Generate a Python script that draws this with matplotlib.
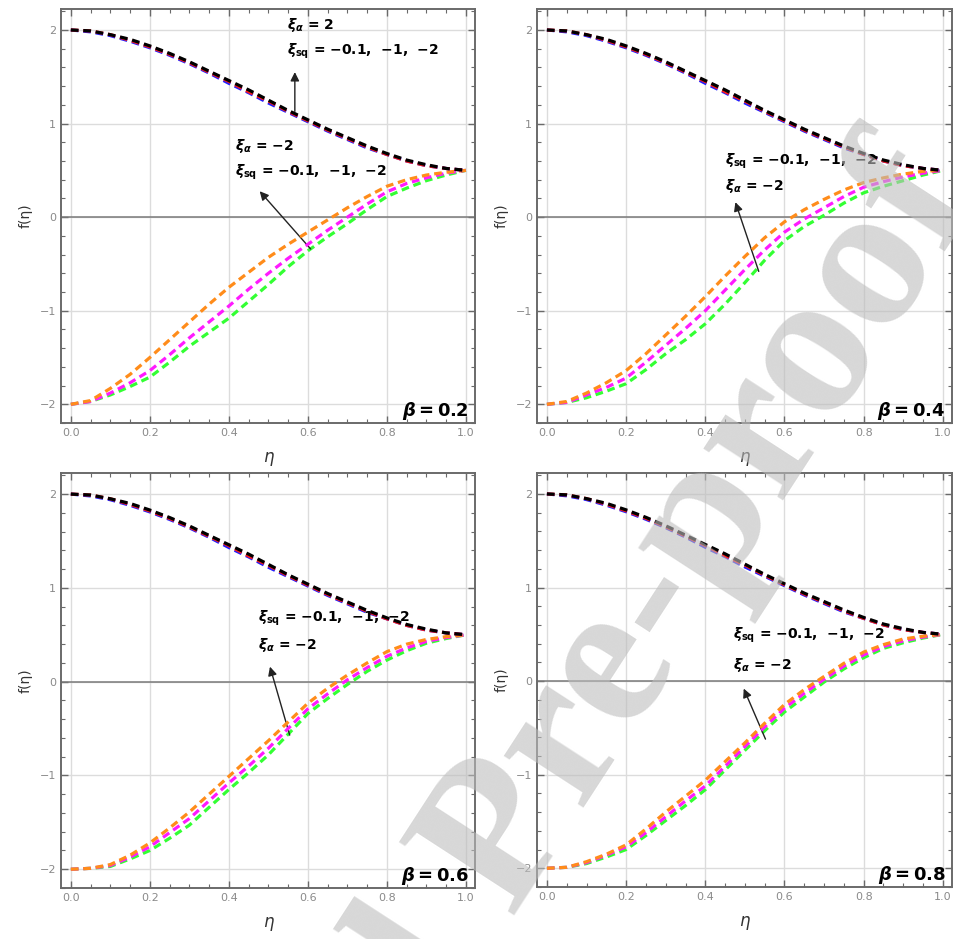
import numpy as np
import matplotlib.pyplot as plt
from matplotlib.ticker import MultipleLocator

plt.rcParams['font.family'] = ['DejaVu Sans']
plt.rcParams['mathtext.fontset'] = 'custom'
plt.rcParams['mathtext.rm'] = 'DejaVu Sans:bold'
plt.rcParams['mathtext.it'] = 'DejaVu Sans:italic:bold'
plt.rcParams['mathtext.bf'] = 'DejaVu Sans:bold'

# similarity variable
eta = [0.00, 0.05, 0.10, 0.15, 0.20, 0.25, 0.30, 0.35, 0.40, 0.45, 0.50,
       0.55, 0.60, 0.65, 0.70, 0.75, 0.80, 0.85, 0.90, 0.95, 1.00]

betas = [0.2, 0.4, 0.6, 0.8]
xi_sq = [-0.1, -1, -2]

# xi_alpha = 2 branch (nearly the same for every beta)
f_pos_01 = [2.00, 1.98, 1.94, 1.88, 1.81, 1.73, 1.64, 1.54, 1.43, 1.33, 1.22,
            1.12, 1.02, 0.92, 0.83, 0.74, 0.67, 0.60, 0.55, 0.52, 0.50]
f_pos_1 = [2.00, 1.99, 1.95, 1.89, 1.82, 1.74, 1.65, 1.55, 1.45, 1.34, 1.24,
           1.13, 1.03, 0.93, 0.84, 0.75, 0.67, 0.60, 0.55, 0.52, 0.50]
f_pos_2 = [2.00, 1.99, 1.95, 1.90, 1.83, 1.75, 1.66, 1.56, 1.46, 1.36, 1.25,
           1.14, 1.04, 0.94, 0.85, 0.76, 0.68, 0.61, 0.56, 0.52, 0.50]

# xi_alpha = -2 branch, one list per beta and xi_sq
f_neg_b02 = [
    [-2.00, -1.96, -1.83, -1.68, -1.50, -1.31, -1.12, -0.93, -0.75, -0.59, -0.43,
     -0.29, -0.16, -0.03, 0.10, 0.22, 0.33, 0.40, 0.45, 0.48, 0.50],
    [-2.00, -1.97, -1.88, -1.77, -1.64, -1.47, -1.29, -1.12, -0.95, -0.77, -0.60,
     -0.44, -0.29, -0.14, 0.00, 0.14, 0.27, 0.36, 0.42, 0.47, 0.50],
    [-2.00, -1.97, -1.90, -1.81, -1.71, -1.55, -1.38, -1.23, -1.08, -0.90, -0.72,
     -0.53, -0.36, -0.21, -0.07, 0.08, 0.22, 0.31, 0.39, 0.45, 0.50],
]
f_neg_b04 = [
    [-2.00, -1.97, -1.88, -1.77, -1.64, -1.46, -1.26, -1.06, -0.85, -0.63, -0.42,
     -0.22, -0.05, 0.08, 0.19, 0.29, 0.37, 0.42, 0.46, 0.49, 0.50],
    [-2.00, -1.98, -1.90, -1.82, -1.72, -1.55, -1.37, -1.19, -1.00, -0.78, -0.56,
     -0.35, -0.16, -0.02, 0.10, 0.22, 0.32, 0.38, 0.43, 0.47, 0.50],
    [-2.00, -1.98, -1.93, -1.86, -1.78, -1.63, -1.46, -1.31, -1.14, -0.93, -0.70,
     -0.46, -0.25, -0.10, 0.02, 0.15, 0.26, 0.33, 0.39, 0.45, 0.50],
]
f_neg_b06 = [
    [-2.00, -1.99, -1.95, -1.85, -1.72, -1.56, -1.39, -1.20, -1.01, -0.82, -0.63,
     -0.43, -0.23, -0.07, 0.07, 0.20, 0.32, 0.40, 0.45, 0.48, 0.50],
    [-2.00, -1.99, -1.96, -1.87, -1.76, -1.61, -1.46, -1.27, -1.08, -0.90, -0.71,
     -0.50, -0.29, -0.13, 0.02, 0.15, 0.27, 0.36, 0.43, 0.47, 0.50],
    [-2.00, -1.99, -1.97, -1.89, -1.80, -1.67, -1.53, -1.34, -1.15, -0.97, -0.78,
     -0.56, -0.34, -0.18, -0.03, 0.11, 0.23, 0.33, 0.41, 0.46, 0.50],
]
f_neg_b08 = [
    [-2.00, -1.99, -1.93, -1.85, -1.75, -1.58, -1.40, -1.23, -1.06, -0.86, -0.66,
     -0.45, -0.25, -0.09, 0.05, 0.19, 0.31, 0.39, 0.45, 0.48, 0.50],
    [-2.00, -1.99, -1.94, -1.86, -1.77, -1.62, -1.45, -1.28, -1.12, -0.91, -0.70,
     -0.49, -0.29, -0.13, 0.02, 0.16, 0.28, 0.37, 0.43, 0.47, 0.50],
    [-2.00, -1.99, -1.95, -1.88, -1.80, -1.65, -1.49, -1.33, -1.16, -0.95, -0.74,
     -0.53, -0.33, -0.17, -0.01, 0.13, 0.25, 0.35, 0.41, 0.46, 0.50],
]

f_pos = [f_pos_01, f_pos_1, f_pos_2]
f_neg = [f_neg_b02, f_neg_b04, f_neg_b06, f_neg_b08]

pos_colors = ['#2020ff', '#ff1a1a', '#000000']
neg_colors = ['#ff8c1a', '#ff1aff', '#33ff33']

xtick_vals = [0.0, 0.2, 0.4, 0.6, 0.8, 1.0]
xtick_labels = ['0.0', '0.2', '0.4', '0.6', '0.8', '1.0']
ytick_vals = [-2, -1, 0, 1, 2]
ytick_labels = ['\u22122', '\u22121', '0', '1', '2']

sq_text = '$\\xi_{\\rm sq}$ = \u22120.1,  \u22121,  \u22122'
al_neg_text = '$\\xi_{\\alpha}$ = \u22122'
al_pos_text = '$\\xi_{\\alpha}$ = 2'

FRAME = '#6a6a6a'
TICKLBL = '#8a8a8a'

fig = plt.figure(figsize=(9.54, 9.39), dpi=100)
rects = [
    [0.0639, 0.5495, 0.434, 0.441],
    [0.5629, 0.5495, 0.435, 0.441],
    [0.0639, 0.0543, 0.434, 0.442],
    [0.5629, 0.0554, 0.435, 0.441],
]
axes = [fig.add_axes(r) for r in rects]

for k, ax in enumerate(axes):
    ax.set_xlim(-0.025, 1.023)
    ax.set_ylim(-2.2, 2.225)
    ax.grid(True, which='major', color='#dcdcdc', lw=1.0)
    ax.set_axisbelow(True)
    ax.axhline(0, color='#7a7a7a', lw=1.1, zorder=1.5)

    dash = (2.4, 1.5)
    for i in range(3):
        ax.plot(eta, f_neg[k][2 - i], color=neg_colors[2 - i], lw=2.3,
                dashes=dash, zorder=3 + i)
    for i in range(3):
        ax.plot(eta, f_pos[i], color=pos_colors[i], lw=2.3, dashes=dash,
                zorder=6 + i)

    ax.set_xticks(xtick_vals)
    ax.set_xticklabels(xtick_labels)
    ax.set_yticks(ytick_vals)
    ax.set_yticklabels(ytick_labels)
    ax.xaxis.set_minor_locator(MultipleLocator(0.05))
    ax.yaxis.set_minor_locator(MultipleLocator(0.2))
    ax.tick_params(which='both', direction='in', top=True, right=True,
                   color=FRAME, labelcolor=TICKLBL, labelsize=8)
    ax.tick_params(which='major', length=5, width=1)
    ax.tick_params(which='minor', length=3, width=0.8)
    for s in ax.spines.values():
        s.set_color(FRAME)
        s.set_linewidth(1.4)

    ax.set_xlabel('\u03b7', fontsize=12, style='italic', color='#333333',
                  labelpad=7)
    ax.set_ylabel('f(\u03b7)', fontsize=10, color='#333333', labelpad=5)

    ax.text(0.985, 0.03, '$\\beta$\u2009=\u2009%.1f' % betas[k],
            transform=ax.transAxes, ha='right', va='center', fontsize=13,
            fontweight='bold', zorder=12)

arrow = dict(arrowstyle='-|>', color='#222222', lw=1.0, mutation_scale=13,
             shrinkA=0, shrinkB=0)
tkw = dict(fontsize=10, fontweight='bold', ha='left', va='center', zorder=12)

# beta = 0.2: both branches labelled
ax = axes[0]
ax.text(0.547, 2.05, al_pos_text, **tkw)
ax.text(0.547, 1.77, sq_text, **tkw)
ax.annotate('', xy=(0.567, 1.55), xytext=(0.567, 1.13), arrowprops=arrow)
ax.text(0.415, 0.755, al_neg_text, **tkw)
ax.text(0.415, 0.48, sq_text, **tkw)
ax.annotate('', xy=(0.478, 0.277), xytext=(0.607, -0.34), arrowprops=arrow)

# remaining panels: xi_alpha = -2 branch
labels_at = [
    (axes[1], 0.451, 0.60, 0.33, (0.476, 0.16), (0.535, -0.58)),
    (axes[2], 0.474, 0.68, 0.39, (0.504, 0.16), (0.554, -0.57)),
    (axes[3], 0.471, 0.485, 0.17, (0.497, -0.08), (0.552, -0.62)),
]
for ax, tx, ty1, ty2, head, tail in labels_at:
    ax.text(tx, ty1, sq_text, **tkw)
    ax.text(tx, ty2, al_neg_text, **tkw)
    ax.annotate('', xy=head, xytext=tail, arrowprops=arrow)

# diagonal stamp across the sheet
fig.text(1.028, 0.790, 'Journal Pre-proof', rotation=57,
         rotation_mode='anchor', ha='right', va='baseline', fontsize=150,
         family='Liberation Serif', fontweight='bold', color='#bdbdbd',
         alpha=0.6, zorder=20)

fig.savefig('out.png', dpi=100)
